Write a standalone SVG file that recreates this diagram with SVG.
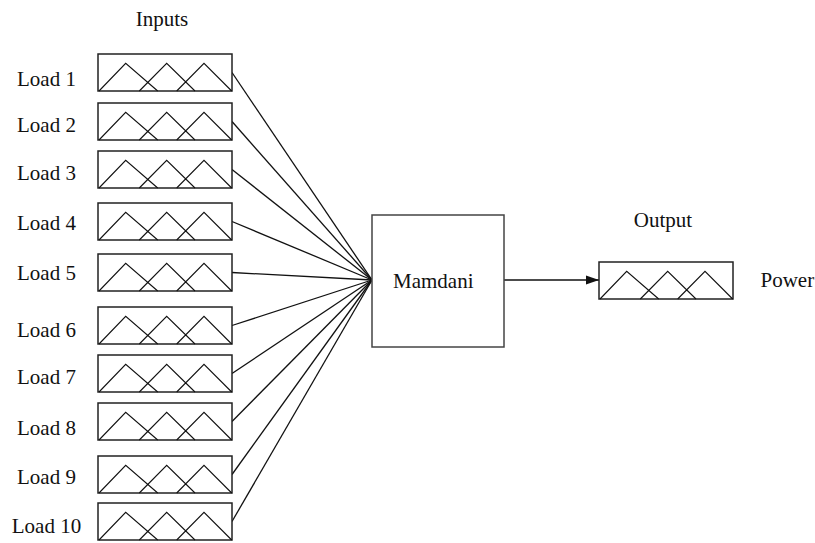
<svg xmlns="http://www.w3.org/2000/svg" xmlns:xlink="http://www.w3.org/1999/xlink" width="815" height="543" viewBox="0 0 815 543">
<style>
  text { font-family: "Liberation Serif", "Times New Roman", serif; font-size: 21px; fill: #111; }
  .lbl { text-anchor: middle; }
  .box { fill: #fff; stroke: #222; stroke-width: 1.5; }
  .mf { fill: none; stroke: #111; stroke-width: 1.1; }
  .conn { stroke: #111; stroke-width: 1.3; fill: none; }
</style>
<defs>
  <g id="fuzzy">
    <rect class="box" x="0" y="0" width="134" height="37"/>
    <path class="mf" d="M1,37 L27.7,9.3 L59.7,37 M41.3,37 L68.7,9.3 L97,37 M78.7,37 L106,9.3 L133.7,37"/>
  </g>
  <marker id="arrow" markerWidth="13" markerHeight="10" refX="13" refY="5" orient="auto" markerUnits="userSpaceOnUse">
    <path d="M0,0.5 L13,5 L0,9.5 Z" fill="#111"/>
  </marker>
</defs>
<rect width="815" height="543" fill="#fff"/>
<text class="lbl" x="162" y="26">Inputs</text>
<text class="lbl" x="663" y="227">Output</text>

<g id="connectors">
  <line class="conn" x1="232" y1="72.5" x2="372" y2="280"/>
  <line class="conn" x1="232" y1="121.5" x2="372" y2="280"/>
  <line class="conn" x1="232" y1="169.5" x2="372" y2="280"/>
  <line class="conn" x1="232" y1="221.5" x2="372" y2="280"/>
  <line class="conn" x1="232" y1="272.5" x2="372" y2="280"/>
  <line class="conn" x1="232" y1="325.5" x2="372" y2="280"/>
  <line class="conn" x1="232" y1="373.5" x2="372" y2="280"/>
  <line class="conn" x1="232" y1="421.5" x2="372" y2="280"/>
  <line class="conn" x1="232" y1="474.5" x2="372" y2="280"/>
  <line class="conn" x1="232" y1="521.5" x2="372" y2="280"/>
  <line class="conn" x1="504" y1="280" x2="599" y2="280" marker-end="url(#arrow)"/>
</g>

<g id="load1"><use xlink:href="#fuzzy" href="#fuzzy" x="98" y="54"/><text class="lbl" x="46.5" y="85.5">Load 1</text></g>
<g id="load2"><use xlink:href="#fuzzy" href="#fuzzy" x="98" y="103"/><text class="lbl" x="46.5" y="132">Load 2</text></g>
<g id="load3"><use xlink:href="#fuzzy" href="#fuzzy" x="98" y="151"/><text class="lbl" x="46.5" y="180">Load 3</text></g>
<g id="load4"><use xlink:href="#fuzzy" href="#fuzzy" x="98" y="203"/><text class="lbl" x="46.5" y="229.5">Load 4</text></g>
<g id="load5"><use xlink:href="#fuzzy" href="#fuzzy" x="98" y="254"/><text class="lbl" x="46.5" y="280">Load 5</text></g>
<g id="load6"><use xlink:href="#fuzzy" href="#fuzzy" x="98" y="307"/><text class="lbl" x="46.5" y="336.7">Load 6</text></g>
<g id="load7"><use xlink:href="#fuzzy" href="#fuzzy" x="98" y="355"/><text class="lbl" x="46.5" y="384.3">Load 7</text></g>
<g id="load8"><use xlink:href="#fuzzy" href="#fuzzy" x="98" y="403"/><text class="lbl" x="46.5" y="435">Load 8</text></g>
<g id="load9"><use xlink:href="#fuzzy" href="#fuzzy" x="98" y="456"/><text class="lbl" x="46.5" y="484.3">Load 9</text></g>
<g id="load10"><use xlink:href="#fuzzy" href="#fuzzy" x="98" y="503"/><text class="lbl" x="46.5" y="532.7">Load 10</text></g>

<g id="mamdani">
  <rect x="372" y="215" width="132" height="132" fill="#fff" stroke="#444" stroke-width="1.5"/>
  <text class="lbl" x="433.3" y="287.7">Mamdani</text>
</g>

<g id="power">
  <use xlink:href="#fuzzy" href="#fuzzy" x="599" y="262"/>
  <text x="760.5" y="286.7">Power</text>
</g>
</svg>
